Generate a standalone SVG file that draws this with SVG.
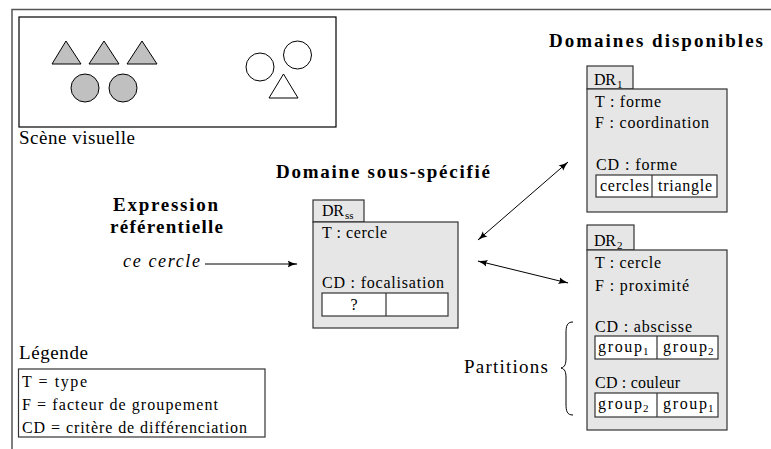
<svg xmlns="http://www.w3.org/2000/svg" width="771" height="449" viewBox="0 0 771 449" font-family="'Liberation Serif','DejaVu Serif',serif">
<defs>
<style>
text{font-family:'Liberation Serif','DejaVu Serif',serif}
.t{font-size:16px;fill:#000}
.b{font-weight:bold;font-size:19px}
.l{font-size:19px}
.i{font-style:italic;font-size:18px}
.s{font-size:11px}
.box{fill:#e6e6e6;stroke:#333;stroke-width:1.2}
.cell{fill:#fff;stroke:#333;stroke-width:1.2}
.sh{fill:#c0c0c0;stroke:#000;stroke-width:1}
.ow{fill:#fff;stroke:#000;stroke-width:1}
.frame{fill:none;stroke:#555;stroke-width:1.5}
.cn{fill:none;stroke:#000;stroke-width:1}
</style>
<marker id="ah" viewBox="0 0 10 8" refX="9.5" refY="4" markerWidth="10" markerHeight="8" markerUnits="userSpaceOnUse" orient="auto-start-reverse">
<path d="M0,0.5 Q4,3 10,4 Q4,5 0,7.5 Q2.5,4 0,0.5z" fill="#000"/>
</marker>
</defs>
<rect width="771" height="449" fill="#fff"/>
<path class="frame" d="M12,449 L12,9.5 L771,9.5"/>

<g id="scene">
<rect x="19" y="17" width="317" height="110" fill="#fff" stroke="#000" stroke-width="1.2"/>
<polygon class="sh" points="66,41 81,64 52,64"/>
<polygon class="sh" points="104,41 119,64 89,64"/>
<polygon class="sh" points="142,41 157,64 127,64"/>
<circle class="sh" cx="85" cy="88" r="14"/>
<circle class="sh" cx="123" cy="88" r="14"/>
<circle class="ow" cx="260" cy="67" r="14"/>
<circle class="ow" cx="297.5" cy="55" r="14"/>
<polygon class="ow" points="283.5,74 298,98 269,98"/>
<text class="t l" x="19" y="144" textLength="116" lengthAdjust="spacing">Scène visuelle</text>
</g>

<g id="titles">
<text class="t b" x="549" y="47" textLength="214" lengthAdjust="spacing">Domaines disponibles</text>
<text class="t b" x="276" y="178" textLength="214" lengthAdjust="spacing">Domaine sous-spécifié</text>
</g>

<g id="expression">
<text class="t b" x="113" y="211" textLength="105" lengthAdjust="spacing">Expression</text>
<text class="t b" x="110" y="233" textLength="113" lengthAdjust="spacing">référentielle</text>
<text class="t i" x="123" y="267" textLength="77" lengthAdjust="spacing">ce cercle</text>
</g>

<g id="legend">
<text class="t l" x="19" y="359" textLength="69" lengthAdjust="spacing">Légende</text>
<rect x="18.5" y="369" width="246.5" height="68" fill="#fff" stroke="#333" stroke-width="1.2"/>
<text class="t" x="22" y="387" textLength="65" lengthAdjust="spacing">T = type</text>
<text class="t" x="22" y="410" textLength="196" lengthAdjust="spacing">F = facteur de groupement</text>
<text class="t" x="22" y="433" textLength="225" lengthAdjust="spacing">CD = critère de différenciation</text>
</g>

<g id="drss">
<rect class="box" x="313" y="200" width="51" height="22"/>
<rect class="box" x="313" y="222" width="145" height="106"/>
<text class="t" x="322" y="216" textLength="22" lengthAdjust="spacing">DR</text>
<text class="t s" x="345" y="219">ss</text>
<text class="t" x="322" y="238" textLength="65" lengthAdjust="spacing">T : cercle</text>
<text class="t" x="322" y="288" textLength="122" lengthAdjust="spacing">CD : focalisation</text>
<rect class="cell" x="322" y="293" width="126" height="23"/>
<line class="cell" x1="386" y1="293" x2="386" y2="316"/>
<text class="t" x="354" y="310" text-anchor="middle">?</text>
</g>

<g id="dr1">
<rect class="box" x="587" y="66" width="46" height="23"/>
<rect class="box" x="587" y="89" width="140" height="123"/>
<text class="t" x="594" y="85" textLength="22" lengthAdjust="spacing">DR</text>
<text class="t s" x="617" y="88">1</text>
<text class="t" x="595" y="107" textLength="66" lengthAdjust="spacing">T : forme</text>
<text class="t" x="595" y="128" textLength="114" lengthAdjust="spacing">F : coordination</text>
<text class="t" x="596" y="170" textLength="81" lengthAdjust="spacing">CD : forme</text>
<rect class="cell" x="596" y="175" width="121" height="22"/>
<line class="cell" x1="652" y1="175" x2="652" y2="197"/>
<text class="t" x="600" y="191" textLength="49" lengthAdjust="spacing">cercles</text>
<text class="t" x="658" y="191" textLength="54" lengthAdjust="spacing">triangle</text>
</g>

<g id="dr2">
<rect class="box" x="587" y="225" width="47" height="25"/>
<rect class="box" x="587" y="250" width="140" height="180"/>
<text class="t" x="594" y="246" textLength="22" lengthAdjust="spacing">DR</text>
<text class="t s" x="617" y="249">2</text>
<text class="t" x="595" y="268" textLength="66" lengthAdjust="spacing">T : cercle</text>
<text class="t" x="595" y="291" textLength="94" lengthAdjust="spacing">F : proximité</text>
<text class="t" x="595" y="332" textLength="97" lengthAdjust="spacing">CD : abscisse</text>
<rect class="cell" x="595" y="336" width="123" height="23"/>
<line class="cell" x1="657" y1="336" x2="657" y2="359"/>
<text class="t" x="598" y="352" textLength="44" lengthAdjust="spacing">group</text>
<text class="t s" x="643" y="355">1</text>
<text class="t" x="663" y="352" textLength="44" lengthAdjust="spacing">group</text>
<text class="t s" x="708" y="355">2</text>
<text class="t" x="595" y="388" textLength="85" lengthAdjust="spacing">CD : couleur</text>
<rect class="cell" x="595" y="393" width="123" height="24"/>
<line class="cell" x1="657" y1="393" x2="657" y2="417"/>
<text class="t" x="598" y="409" textLength="44" lengthAdjust="spacing">group</text>
<text class="t s" x="643" y="412">2</text>
<text class="t" x="663" y="409" textLength="44" lengthAdjust="spacing">group</text>
<text class="t s" x="708" y="412">1</text>
</g>

<g id="partitions">
<text class="t l" x="464" y="373" textLength="84" lengthAdjust="spacing">Partitions</text>
<path class="cn" d="M573,322 C567,322 566,326 566,333 L566,358 C566,364 565,367 561,368 C565,369 566,372 566,378 L566,404 C566,411 567,415 573,415"/>
</g>

<g id="connectors">
<line class="cn" x1="205" y1="264" x2="297" y2="264" marker-end="url(#ah)"/>
<line class="cn" x1="478" y1="240" x2="568" y2="162" marker-start="url(#ah)" marker-end="url(#ah)"/>
<line class="cn" x1="478" y1="261" x2="568" y2="283" marker-start="url(#ah)" marker-end="url(#ah)"/>
</g>
</svg>
